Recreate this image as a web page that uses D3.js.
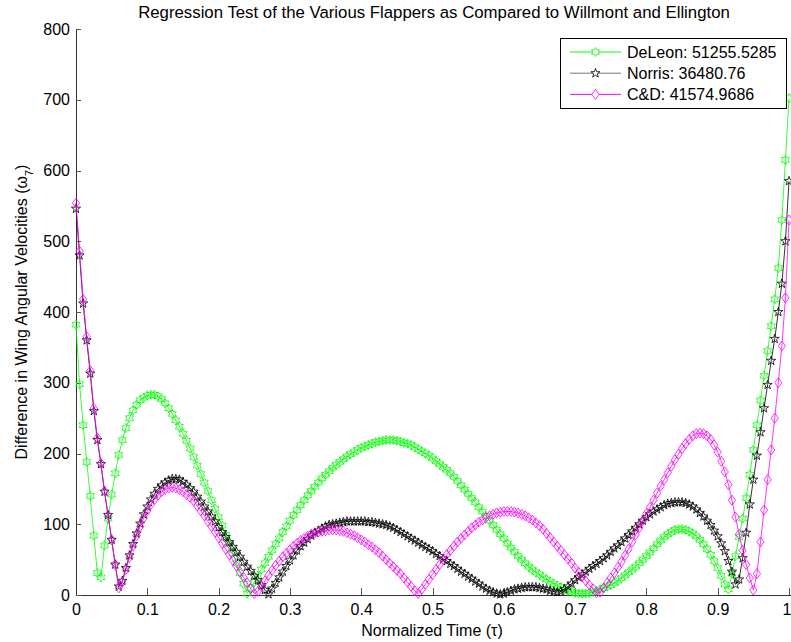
<!DOCTYPE html>
<html>
<head>
<meta charset="utf-8">
<script src="https://cdn.jsdelivr.net/npm/d3@7/dist/d3.min.js"></script>
<style>
  html, body { margin: 0; padding: 0; background: #fff; }
  svg { display: block; font-family: "Liberation Sans", Arial, Helvetica, sans-serif; }
</style>
</head>
<body>
<svg id="chart" width="791" height="642"></svg>
<script>
// ---- Data ----
const timeStep = 0.005; // samples at t = 0, 0.005, ..., 1

const deleonValues = [
  382,298,240,188,140,84,31,25,70,108,142,172,198,219,236,250,261,269,275,279,
  282,283,283,281,277,271,264,256,247,238,228,218,207,195,183,171,159,147,134,122,
  110,98,85,72,59,45,31,16,2,9,18,27,36,45,54,63,72,80,89,97,
  105,113,120,127,134,141,147,153,159,165,170,175,180,184,188,192,196,199,202,205,
  208,210,212,214,216,217,218,219,219,219,218,217,215,214,212,209,206,203,200,197,
  193,189,185,181,177,172,167,161,155,149,143,137,131,124,118,112,105,99,92,86,
  80,73,67,61,55,50,45,40,36,32,29,25,22,19,16,13,11,8,6,5,
  3,2,2,2,3,4,6,8,10,12,14,17,20,24,28,32,36,40,45,50,
  55,60,66,72,77,82,86,89,92,93,93,92,90,87,83,78,72,65,57,48,
  38,27,15,8,30,55,82,108,137,170,205,240,275,310,345,380,418,462,530,615,
  702
];

const norrisValues = [
  546,480,412,360,313,260,219,185,146,113,78,43,12,20,38,56,72,87,101,114,
  125,135,143,150,155,159,162,164,164,163,160,156,151,146,139,132,125,118,111,104,
  96,89,82,75,68,61,54,47,40,34,27,21,14,7,1,9,17,25,33,41,
  49,56,63,69,74,79,84,88,91,94,97,99,100,101,102,103,104,104,104,104,
  104,104,103,103,102,101,100,99,97,95,92,89,86,83,80,77,74,71,68,65,
  62,58,55,51,48,44,41,37,33,30,26,23,19,16,12,9,6,4,2,1,
  2,4,6,8,9,10,11,11,11,11,10,9,8,6,5,4,5,8,12,16,
  21,25,29,33,37,41,44,48,52,56,61,66,70,75,80,85,90,95,100,105,
  110,114,118,121,124,127,129,130,131,131,131,130,128,125,121,116,111,105,99,91,
  83,73,62,48,33,15,22,52,88,128,163,197,230,264,297,331,362,400,440,500,
  585
];

const cdValues = [
  554,486,418,365,317,264,222,186,147,113,78,43,10,18,36,53,69,84,97,109,
  119,128,135,141,146,149,151,152,151,149,146,142,138,133,126,119,112,104,97,89,
  81,73,65,57,49,41,33,25,17,9,2,5,12,20,28,35,42,48,54,59,
  64,69,73,77,80,83,86,88,89,90,91,92,92,92,91,90,88,86,84,81,
  78,75,71,68,64,60,55,50,45,40,35,30,24,18,12,6,2,8,15,22,
  29,36,43,50,57,63,69,75,80,85,90,95,99,103,106,109,112,114,116,117,
  118,118,118,117,116,114,112,109,106,102,98,93,87,81,75,69,63,57,51,45,
  38,32,26,20,14,9,3,4,10,17,24,31,39,47,56,65,75,85,95,105,
  115,124,134,144,154,163,173,182,191,199,207,214,220,225,228,229,228,225,220,212,
  202,189,174,156,134,110,86,63,43,24,7,30,75,120,163,205,250,300,352,420,
  530
];

const seriesNames = ["DeLeon: 51255.5285", "Norris: 36480.76", "C&D: 41574.9686"];
const seriesColors = ["#00ff00", "#000000", "#ff00ff"];
const seriesMarkers = ["hexagram", "pentagram", "diamond"];

const xTickValues = [0, 0.1, 0.2, 0.3, 0.4, 0.5, 0.6, 0.7, 0.8, 0.9, 1];
const xTickLabels = ["0", "0.1", "0.2", "0.3", "0.4", "0.5", "0.6", "0.7", "0.8", "0.9", "1"];
const yTickValues = [0, 100, 200, 300, 400, 500, 600, 700, 800];

const titleText = "Regression Test of the Various Flappers as Compared to Willmont and Ellington";

// ---- Layout ----
const svg = d3.select("#chart");
const plotLeft = 76, plotRight = 789, plotTop = 29, plotBottom = 595;

const x = d3.scaleLinear().domain([0, 1]).range([plotLeft, plotRight]);
const y = d3.scaleLinear().domain([0, 800]).range([plotBottom, plotTop]);

// Marker path generators (centered at origin)
function starPath(points, rOuter, rInner) {
  const pts = [];
  for (let k = 0; k < points * 2; k++) {
    const r = k % 2 === 0 ? rOuter : rInner;
    const a = -Math.PI / 2 + k * Math.PI / points;
    pts.push([r * Math.cos(a), r * Math.sin(a)]);
  }
  return "M" + pts.map(p => p[0].toFixed(2) + "," + p[1].toFixed(2)).join("L") + "Z";
}
const markerPaths = {
  hexagram: starPath(6, 4.6, 2.65),
  pentagram: starPath(5, 4.8, 1.9),
  diamond: "M0,-5L3.6,0L0,5L-3.6,0Z"
};

// ---- Axes ----
const xAxis = d3.axisBottom(x)
  .tickValues(xTickValues)
  .tickFormat((d, i) => xTickLabels[i])
  .tickSizeInner(-7).tickSizeOuter(0).tickPadding(9);
const yAxis = d3.axisLeft(y)
  .tickValues(yTickValues)
  .tickFormat(d3.format("d"))
  .tickSizeInner(-5).tickSizeOuter(0).tickPadding(6);

const gx = svg.append("g").attr("transform", `translate(0,${plotBottom})`).call(xAxis);
const gy = svg.append("g").attr("transform", `translate(${plotLeft},0)`).call(yAxis);
[gx, gy].forEach(g => {
  g.select(".domain").attr("stroke", "#333").attr("shape-rendering", "crispEdges");
  g.selectAll(".tick line").attr("stroke", "#555").attr("shape-rendering", "crispEdges");
  g.selectAll(".tick text").attr("fill", "#000").style("font-size", "16px")
    .style("font-family", '"Liberation Sans", Arial, sans-serif');
});
gx.select(".domain").attr("d", `M${plotLeft},0.5H${791}`);
// keep the last x label (at the clipped right edge) fully visible
gx.selectAll(".tick text").filter((d, i) => i === xTickValues.length - 1)
  .attr("text-anchor", "end").attr("x", 2);

// ---- Series ----
const allSeries = [deleonValues, norrisValues, cdValues];
const line = d3.line().x(d => x(d.t)).y(d => y(d.v));

allSeries.forEach((vals, si) => {
  const pts = vals.map((v, i) => ({ t: i * timeStep, v }));
  const g = svg.append("g");
  g.append("path")
    .attr("d", line(pts))
    .attr("fill", "none")
    .attr("stroke", seriesColors[si])
    .attr("stroke-width", 0.8);
  g.selectAll("path.m").data(pts).enter().append("path")
    .attr("class", "m")
    .attr("d", markerPaths[seriesMarkers[si]])
    .attr("transform", d => `translate(${x(d.t)},${y(d.v)})`)
    .attr("fill", "none")
    .attr("stroke", seriesColors[si])
    .attr("stroke-width", 0.8);
});

// ---- Title and axis labels ----
svg.append("text")
  .attr("x", 434).attr("y", 18)
  .attr("text-anchor", "middle")
  .style("font-size", "16.8px")
  .text(titleText);

svg.append("text")
  .attr("x", 432).attr("y", 636)
  .attr("text-anchor", "middle")
  .style("font-size", "16px")
  .text("Normalized Time (τ)");

const yl = svg.append("text")
  .attr("transform", "translate(27,312) rotate(-90)")
  .attr("text-anchor", "middle")
  .style("font-size", "16px");
yl.append("tspan").text("Difference in Wing Angular Velocities (ω");
yl.append("tspan").attr("baseline-shift", "sub").style("font-size", "11px").text("7");
yl.append("tspan").text(")");

// ---- Legend ----
const lg = svg.append("g");
lg.append("rect")
  .attr("x", 560.5).attr("y", 38.5).attr("width", 226).attr("height", 70)
  .attr("fill", "#fff").attr("stroke", "#000").attr("stroke-width", 1);
seriesNames.forEach((name, i) => {
  const cy = 52 + i * 21.2;
  lg.append("line")
    .attr("x1", 570).attr("x2", 621).attr("y1", cy).attr("y2", cy)
    .attr("stroke", i === 1 ? "#777" : seriesColors[i]).attr("stroke-width", 1);
  lg.append("path")
    .attr("d", markerPaths[seriesMarkers[i]])
    .attr("transform", `translate(595.5,${cy})`)
    .attr("fill", "#fff")
    .attr("stroke", seriesColors[i]).attr("stroke-width", 0.8);
  lg.append("text")
    .attr("x", 627).attr("y", cy + 6)
    .style("font-size", "16px")
    .text(name);
});
</script>
</body>
</html>
